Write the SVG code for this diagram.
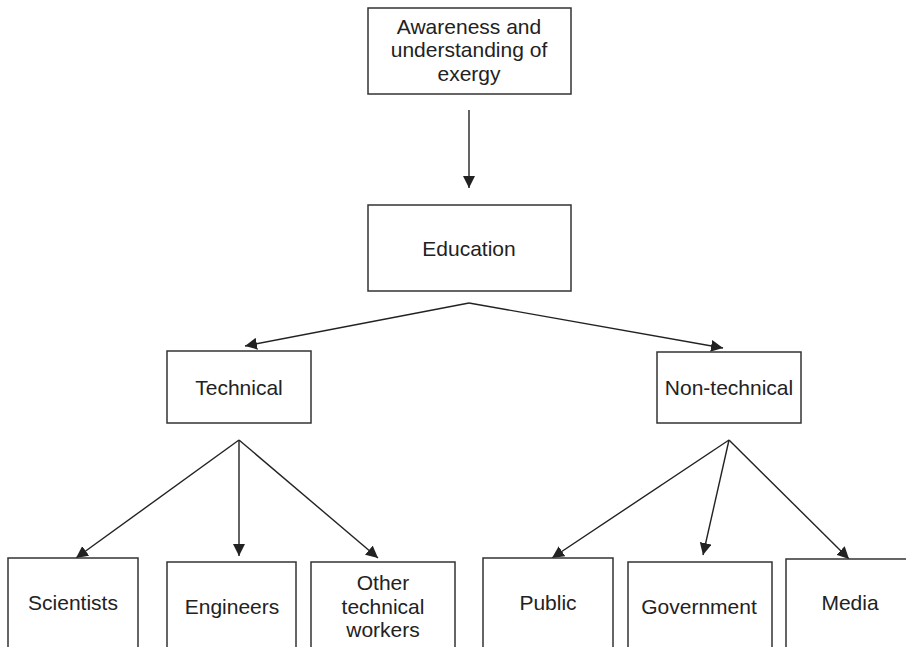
<svg xmlns="http://www.w3.org/2000/svg" width="906" height="647" viewBox="0 0 906 647">
<defs>
<style>
.box{fill:#fff;stroke:#333;stroke-width:1.5}
.lbl{font-family:"Liberation Sans",Arial,sans-serif;font-size:21px;fill:#222;text-anchor:middle}
.con{stroke:#222;stroke-width:1.4;fill:none;marker-end:url(#ah)}
</style>
<marker id="ah" viewBox="0 0 12 12" refX="12" refY="6" markerWidth="12" markerHeight="12" markerUnits="userSpaceOnUse" orient="auto">
<path d="M0,0 L12,6 L0,12 Z" fill="#222"/>
</marker>
</defs>
<rect width="906" height="647" fill="#fff"/>
<g id="connectors">
<line class="con" x1="469" y1="110" x2="469" y2="188"/>
<line class="con" x1="469" y1="303" x2="245" y2="346"/>
<line class="con" x1="469" y1="303" x2="723" y2="348"/>
<line class="con" x1="239" y1="440" x2="76" y2="558"/>
<line class="con" x1="239" y1="440" x2="239" y2="556"/>
<line class="con" x1="239" y1="440" x2="378" y2="558"/>
<line class="con" x1="729" y1="440" x2="552" y2="558"/>
<line class="con" x1="729" y1="440" x2="703" y2="555"/>
<line class="con" x1="729" y1="440" x2="849" y2="559"/>
</g>
<g id="awareness">
<rect class="box" x="368" y="8" width="203" height="86"/>
<text class="lbl" x="469" y="34">Awareness and</text>
<text class="lbl" x="469" y="57">understanding of</text>
<text class="lbl" x="469" y="81">exergy</text>
</g>
<g id="education">
<rect class="box" x="368" y="205" width="203" height="86"/>
<text class="lbl" x="469" y="256">Education</text>
</g>
<g id="technical">
<rect class="box" x="167" y="351" width="144" height="72"/>
<text class="lbl" x="239" y="395">Technical</text>
</g>
<g id="nontechnical">
<rect class="box" x="657" y="352" width="144" height="71"/>
<text class="lbl" x="729" y="395">Non-technical</text>
</g>
<g id="scientists">
<rect class="box" x="8" y="558" width="130" height="110"/>
<text class="lbl" x="73" y="610">Scientists</text>
</g>
<g id="engineers">
<rect class="box" x="167" y="562" width="129" height="106"/>
<text class="lbl" x="232" y="614">Engineers</text>
</g>
<g id="other">
<rect class="box" x="311" y="562" width="144" height="106"/>
<text class="lbl" x="383" y="590">Other</text>
<text class="lbl" x="383" y="614">technical</text>
<text class="lbl" x="383" y="637">workers</text>
</g>
<g id="public">
<rect class="box" x="483" y="558" width="130" height="110"/>
<text class="lbl" x="548" y="610">Public</text>
</g>
<g id="government">
<rect class="box" x="628" y="562" width="144" height="106"/>
<text class="lbl" x="699" y="614">Government</text>
</g>
<g id="media">
<rect class="box" x="786" y="559" width="140" height="110"/>
<text class="lbl" x="850" y="610">Media</text>
</g>
</svg>
